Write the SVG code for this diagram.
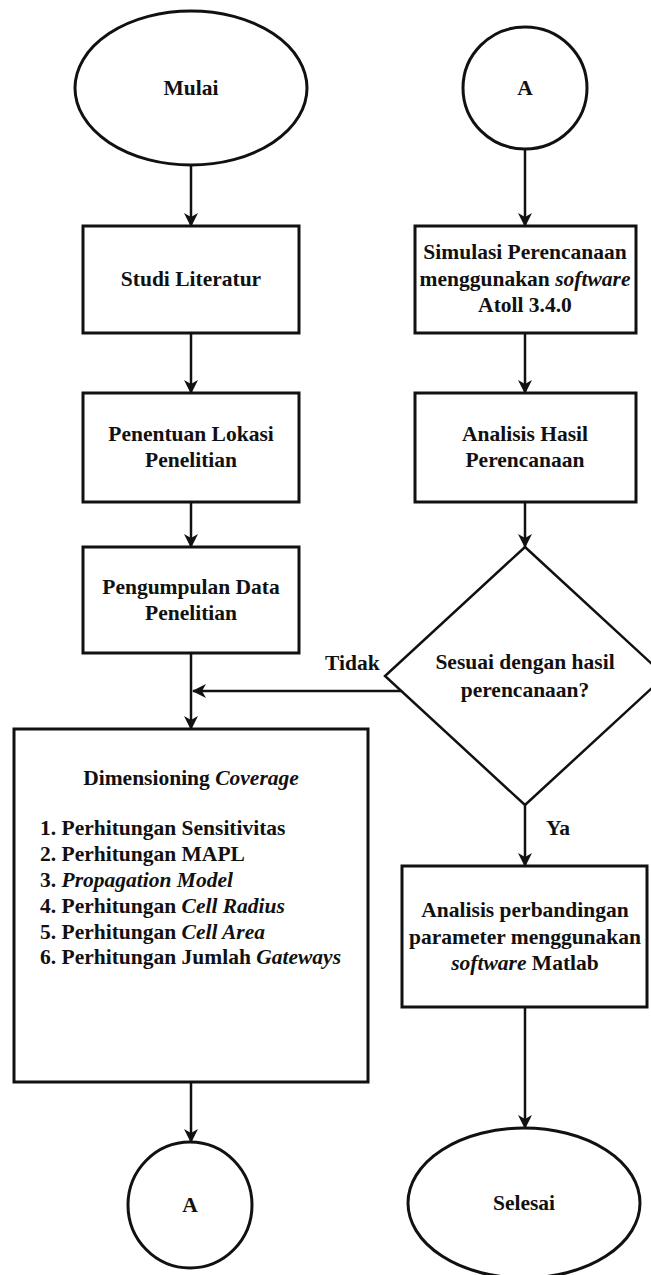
<svg xmlns="http://www.w3.org/2000/svg" width="651" height="1275" viewBox="0 0 651 1275">
<defs>
<marker id="arr" viewBox="0 0 14 14" refX="13" refY="7" markerWidth="14" markerHeight="14" markerUnits="userSpaceOnUse" orient="auto">
<path d="M0,0 L14,7 L0,14 L4,7 Z" fill="#111"/>
</marker>
<style>
.shape{fill:#fff;stroke:#111;stroke-width:3}
.dia{fill:#fff;stroke:#111;stroke-width:2.5}
.t{font-family:"Liberation Serif","Times New Roman",serif;font-weight:bold;font-size:21.5px;fill:#111;text-anchor:middle;dominant-baseline:central}
.l{text-anchor:start}
.i{font-style:italic}
.c{fill:none;stroke:#111;stroke-width:2.5}
</style>
</defs>
<rect width="651" height="1275" fill="#fff"/>
<g id="connectors">
<line class="c" x1="191" y1="165" x2="191" y2="226" marker-end="url(#arr)"/>
<line class="c" x1="191" y1="333" x2="191" y2="393" marker-end="url(#arr)"/>
<line class="c" x1="191" y1="502" x2="191" y2="547" marker-end="url(#arr)"/>
<line class="c" x1="191" y1="653" x2="191" y2="729" marker-end="url(#arr)"/>
<line class="c" x1="402" y1="691" x2="193" y2="691" marker-end="url(#arr)"/>
<line class="c" x1="191" y1="1082" x2="191" y2="1142" marker-end="url(#arr)"/>
<line class="c" x1="525" y1="149" x2="525" y2="226" marker-end="url(#arr)"/>
<line class="c" x1="525" y1="333" x2="525" y2="393" marker-end="url(#arr)"/>
<line class="c" x1="525" y1="502" x2="525" y2="547" marker-end="url(#arr)"/>
<line class="c" x1="525" y1="805" x2="525" y2="866" marker-end="url(#arr)"/>
<line class="c" x1="525" y1="1007" x2="525" y2="1128" marker-end="url(#arr)"/>
<text class="t l" x="325" y="663">Tidak</text>
<text class="t l" x="546" y="828">Ya</text>
</g>
<g id="mulai">
<ellipse class="shape" cx="191" cy="88" rx="116" ry="77"/>
<text class="t" x="191" y="88">Mulai</text>
</g>
<g id="studi">
<rect class="shape" x="83" y="226" width="216" height="107"/>
<text class="t" x="191" y="279">Studi Literatur</text>
</g>
<g id="penentuan">
<rect class="shape" x="83" y="393" width="216" height="109"/>
<text class="t" x="191" y="434">Penentuan Lokasi</text>
<text class="t" x="191" y="460">Penelitian</text>
</g>
<g id="pengumpulan">
<rect class="shape" x="83" y="547" width="216" height="106"/>
<text class="t" x="191" y="587">Pengumpulan Data</text>
<text class="t" x="191" y="613">Penelitian</text>
</g>
<g id="dimensioning">
<rect class="shape" x="14" y="729" width="354" height="353"/>
<text class="t" x="191" y="778">Dimensioning <tspan class="i">Coverage</tspan></text>
<text class="t l" x="40" y="828">1. Perhitungan Sensitivitas</text>
<text class="t l" x="40" y="854">2. Perhitungan MAPL</text>
<text class="t l" x="40" y="880">3. <tspan class="i">Propagation Model</tspan></text>
<text class="t l" x="40" y="906">4. Perhitungan <tspan class="i">Cell Radius</tspan></text>
<text class="t l" x="40" y="932">5. Perhitungan <tspan class="i">Cell Area</tspan></text>
<text class="t l" x="40" y="957">6. Perhitungan Jumlah <tspan class="i">Gateways</tspan></text>
</g>
<g id="a-bottom">
<ellipse class="shape" cx="190" cy="1205" rx="62" ry="63"/>
<text class="t" x="190" y="1205">A</text>
</g>
<g id="a-top">
<ellipse class="shape" cx="525" cy="88" rx="62" ry="61"/>
<text class="t" x="525" y="88">A</text>
</g>
<g id="simulasi">
<rect class="shape" x="415" y="226" width="221" height="107"/>
<text class="t" x="525" y="252">Simulasi Perencanaan</text>
<text class="t" x="525" y="279">menggunakan <tspan class="i">software</tspan></text>
<text class="t" x="525" y="305">Atoll 3.4.0</text>
</g>
<g id="analisis-hasil">
<rect class="shape" x="415" y="393" width="221" height="109"/>
<text class="t" x="525" y="434">Analisis Hasil</text>
<text class="t" x="525" y="460">Perencanaan</text>
</g>
<g id="sesuai">
<polygon class="dia" points="525,547 665,676 525,805 385,676"/>
<text class="t" x="525" y="662">Sesuai dengan hasil</text>
<text class="t" x="525" y="690">perencanaan?</text>
</g>
<g id="analisis-perbandingan">
<rect class="shape" x="402" y="866" width="245" height="141"/>
<text class="t" x="525" y="910">Analisis perbandingan</text>
<text class="t" x="525" y="937">parameter menggunakan</text>
<text class="t" x="525" y="963"><tspan class="i">software</tspan> Matlab</text>
</g>
<g id="selesai">
<ellipse class="shape" cx="524" cy="1203" rx="116" ry="75"/>
<text class="t" x="524" y="1203">Selesai</text>
</g>
</svg>
